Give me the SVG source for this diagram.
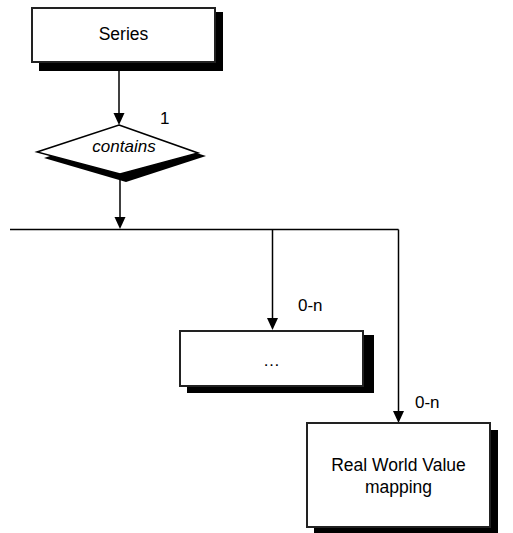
<svg xmlns="http://www.w3.org/2000/svg" width="513" height="533" viewBox="0 0 513 533">
<style>
  .box { fill: #fff; stroke: #222; stroke-width: 2; }
  .shadow { fill: #000; stroke: none; }
  .line { fill: none; stroke: #000; stroke-width: 1.5; }
  .head { fill: #000; stroke: none; }
  .t { font-family: "Liberation Sans", Arial, sans-serif; fill: #000; }
  .lbl { font-size: 17.5px; text-anchor: middle; }
  .card { font-size: 17px; }
</style>
<rect width="513" height="533" fill="#fff"/>
<g id="connectors">
  <line class="line" x1="119" y1="63" x2="119" y2="114"/>
  <path class="head" d="M113.5,113 L124.5,113 L119,125 Z"/>
  <line class="line" x1="120" y1="175" x2="120" y2="218"/>
  <path class="head" d="M114.5,217 L125.5,217 L120,229 Z"/>
  <line class="line" x1="10" y1="229.5" x2="398.5" y2="229.5"/>
  <line class="line" x1="272.5" y1="229.5" x2="272.5" y2="319"/>
  <path class="head" d="M267,318 L278,318 L272.5,330 Z"/>
  <line class="line" x1="398.5" y1="229.5" x2="398.5" y2="412"/>
  <path class="head" d="M393,411 L404,411 L398.5,423 Z"/>
  <text class="t card" x="160" y="124">1</text>
  <text class="t card" x="298" y="311">0-n</text>
  <text class="t card" x="415" y="408">0-n</text>
</g>
<g id="series">
  <rect class="shadow" x="39" y="12" width="184" height="59"/>
  <rect class="box" x="32" y="8" width="183" height="54"/>
  <text class="t lbl" x="123.5" y="40">Series</text>
</g>
<g id="contains">
  <polygon class="shadow" points="44,158 126,182 206,156 126,131"/>
  <polygon points="119,125 198,153 120,174 37,152" fill="#fff" stroke="#000" stroke-width="1.5"/>
  <text class="t" x="124" y="152" font-size="17" font-style="italic" text-anchor="middle">contains</text>
</g>
<g id="dots">
  <rect class="shadow" x="187" y="335" width="187" height="58"/>
  <rect class="box" x="180" y="331" width="183" height="55"/>
  <text class="t" x="271.5" y="366" font-size="17" text-anchor="middle">…</text>
</g>
<g id="realworld">
  <rect class="shadow" x="314" y="430" width="184" height="110"/>
  <rect class="box" x="307" y="423" width="183" height="104"/>
  <text class="t lbl" x="398.5" y="471">Real World Value</text>
  <text class="t lbl" x="398.5" y="493">mapping</text>
</g>
</svg>
